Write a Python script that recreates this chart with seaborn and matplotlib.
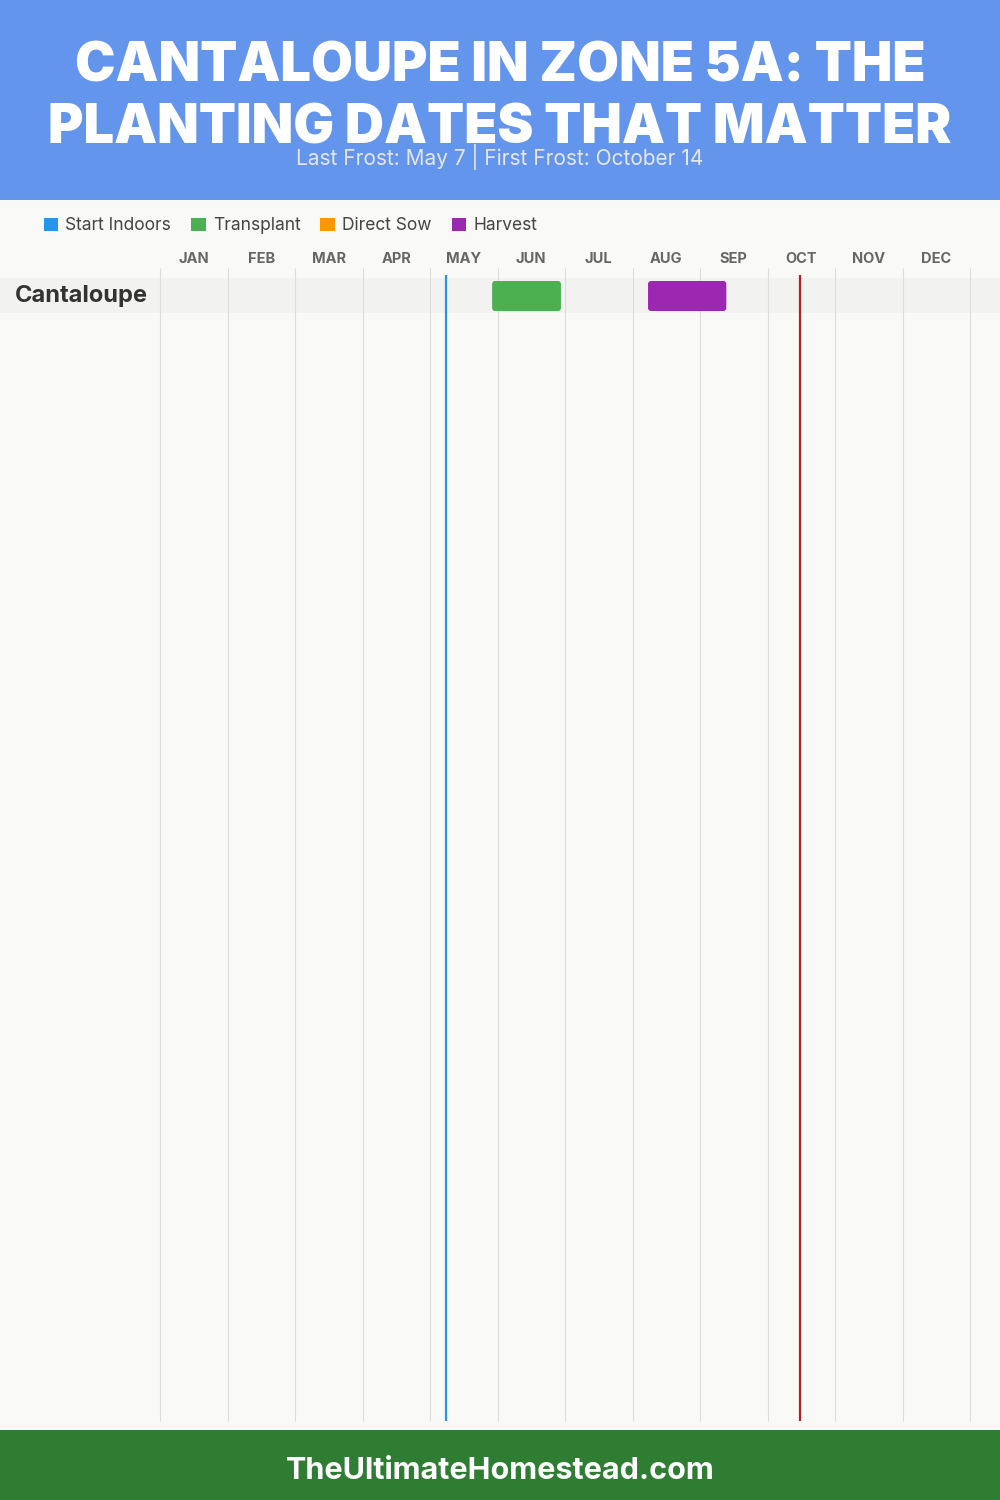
import matplotlib
matplotlib.use('Agg')
import matplotlib.pyplot as plt
from matplotlib.patches import Rectangle, FancyBboxPatch, Patch
import seaborn as sns

# chart data
months = ['JAN', 'FEB', 'MAR', 'APR', 'MAY', 'JUN', 'JUL', 'AUG', 'SEP', 'OCT', 'NOV', 'DEC']
crops = ['Cantaloupe']
activities = ['Start Indoors', 'Transplant', 'Direct Sow', 'Harvest']
activity_colors = ['#2196F3', '#4CAF50', '#FF9800', '#9C27B0']
# (crop, activity, start month position, end month position)
bar_crop = ['Cantaloupe', 'Cantaloupe']
bar_activity = ['Transplant', 'Harvest']
bar_start = [4.92, 7.23]
bar_end = [5.94, 8.39]
last_frost = 4.23   # May 7
first_frost = 9.48  # Oct 14

title_lines = ['CANTALOUPE IN ZONE 5A: THE', 'PLANTING DATES THAT MATTER']
subtitle = 'Last Frost: May 7 | First Frost: October 14'
footer = 'TheUltimateHomestead.com'

sns.set_theme(style='white')
plt.rcParams['font.family'] = ['Inter', 'DejaVu Sans']

W, H = 1000, 1500
fig = plt.figure(figsize=(10, 15), dpi=100)
fig.patch.set_facecolor('#F9F9F7')

# header and footer bands
fig.add_artist(Rectangle((0, 1 - 200 / H), 1, 200 / H, transform=fig.transFigure,
                         facecolor='#6495ED', edgecolor='none', zorder=0))
fig.add_artist(Rectangle((0, 0), 1, 70 / H, transform=fig.transFigure,
                         facecolor='#2E7D32', edgecolor='none', zorder=0))

for line, y in zip(title_lines, [67, 129]):
    fig.text(0.5, 1 - y / H, line, ha='center', va='center', color='white',
             fontsize=39, fontweight='black')
fig.text(0.5, 1 - 157 / H, subtitle, ha='center', va='center', color='#E6E6E6',
         fontsize=15)
fig.text(0.5, 29 / H, footer, ha='center', va='center', color='white',
         fontsize=22, fontweight='bold')

# main axes: x in months, y in pixels
left_px, right_px = 160, 970
ppm = (right_px - left_px) / 12
ax = fig.add_axes([0, 70 / H, 1, 1230 / H])
ax.set_xlim(-left_px / ppm, 12 + (W - right_px) / ppm)
ax.set_ylim(1430, 200)
ax.axis('off')

grid_top, grid_bot = 268, 1421
ax.vlines(range(13), grid_top, grid_bot, color='#DDDDDD', lw=0.8, zorder=1)

for i, m in enumerate(months):
    ax.text(i + 0.5, 259, m, ha='center', va='center', fontsize=10.5,
            fontweight='bold', color='#666666')

row_h = 35
row_top0 = 278
for r, crop in enumerate(crops):
    top = row_top0 + r * row_h
    ax.axhspan(top, top + row_h, color='#F2F2F0', zorder=0.5, lw=0)
    ax.text(-left_px / ppm + 15 / ppm, top + row_h / 2, crop, ha='left', va='center',
            fontsize=17, fontweight='bold', color='#333333')

color_map = dict(zip(activities, activity_colors))
for crop, act, s, e in zip(bar_crop, bar_activity, bar_start, bar_end):
    r = crops.index(crop)
    top = row_top0 + r * row_h + 3
    box = FancyBboxPatch((s, top), e - s, row_h - 5,
                         boxstyle='round,pad=0,rounding_size=%f' % (3 / ppm),
                         mutation_aspect=ppm, facecolor=color_map[act],
                         edgecolor='none', zorder=3)
    ax.add_patch(box)

ax.vlines(last_frost, 275, grid_bot, color='#2196F3', lw=1.6, zorder=4)
ax.vlines(first_frost, 275, grid_bot, color='#B22222', lw=1.6, zorder=4)

handles = [Patch(facecolor=c, edgecolor='none', label=a)
           for a, c in zip(activities, activity_colors)]
fig.legend(handles=handles, loc='center left', bbox_to_anchor=(0.028, 1 - 226 / H),
           ncol=4, frameon=False, fontsize=12.5, handlelength=0.85, handleheight=0.85,
           handletextpad=0.4, columnspacing=1.15, labelcolor='#444444')

fig.savefig('out.png', dpi=100, facecolor=fig.get_facecolor())
